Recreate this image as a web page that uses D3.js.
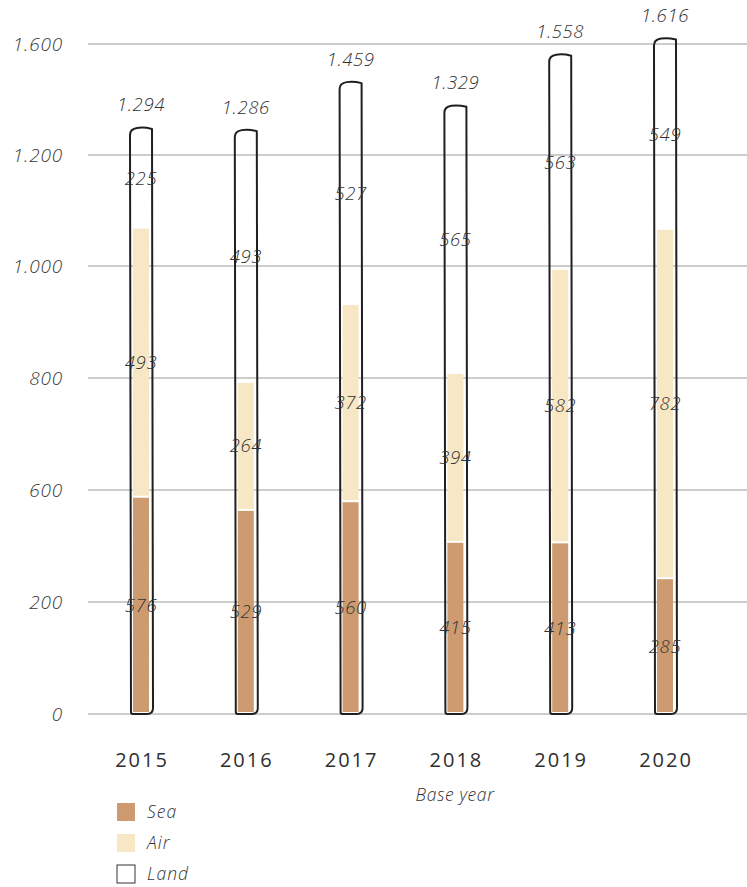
<!DOCTYPE html>
<html>
<head>
<meta charset="utf-8">
<script src="https://cdn.jsdelivr.net/npm/d3@7"></script>
<style>
  html, body { margin: 0; padding: 0; background: #fff; }
  svg text { font-family: "Open Sans", "Lato", sans-serif; }
</style>
</head>
<body>
<div id="chart"></div>
<script>
// Shipments by transport mode per base year
const years = ["2015", "2016", "2017", "2018", "2019", "2020"];
const sea   = [576, 529, 560, 415, 413, 285];
const air   = [493, 264, 372, 394, 582, 782];
const land  = [225, 493, 527, 565, 563, 549];
const totals = ["1.294", "1.286", "1.459", "1.329", "1.558", "1.616"];

// Axis ticks as printed on the chart
const tickValues = [0, 200, 600, 800, 1000, 1200, 1600];
const tickLabels = ["0", "200", "600", "800", "1.000", "1.200", "1.600"];

const modes = ["Sea", "Air", "Land"];
const colors = { Sea: "#cd9b6f", Air: "#f7e7c4", Land: "#ffffff" };

const W = 747, H = 887;
const svg = d3.select("#chart").append("svg")
  .attr("width", W).attr("height", H);

// Piecewise axis: each gridline step spans one printed tick interval
const y = d3.scaleLinear()
  .domain(tickValues)
  .range([714, 602, 490, 378, 266, 155, 44]);

const x = d3.scalePoint().domain(years).range([141, 665]);
const barW = 22;

// Gridlines
svg.append("g").selectAll("line")
  .data(tickValues)
  .join("line")
  .attr("x1", 88).attr("x2", W)
  .attr("y1", d => y(d)).attr("y2", d => y(d))
  .attr("stroke", "#9a9a9a").attr("stroke-width", 1);

// Y tick labels
svg.append("g").selectAll("text")
  .data(tickValues)
  .join("text")
  .attr("x", 63).attr("y", d => y(d))
  .attr("dy", "0.35em")
  .attr("text-anchor", "end")
  .attr("font-size", 19).attr("font-style", "italic").attr("font-weight", 300)
  .attr("letter-spacing", 0.8)
  .attr("fill", "#3a3a3a")
  .text((d, i) => tickLabels[i]);

// Stack the modes
const rows = years.map((yr, i) => ({ year: yr, Sea: sea[i], Air: air[i], Land: land[i] }));
const stack = d3.stack().keys(modes)(rows);

const bars = svg.append("g");

// Filled segments (inset inside the outline)
stack.forEach(layer => {
  if (layer.key === "Land") return;
  bars.append("g").selectAll("rect")
    .data(layer)
    .join("rect")
    .attr("x", d => x(d.data.year) - barW / 2 + 3)
    .attr("width", barW - 6)
    .attr("y", d => y(d[1]) + 1)
    .attr("height", d => Math.max(0, y(d[0]) - y(d[1]) - (layer.key === "Sea" ? 3 : 2)))
    .attr("fill", colors[layer.key]);
});

// Hand-drawn style outline around each full bar
const topLayer = stack[stack.length - 1];
bars.append("g").selectAll("path")
  .data(topLayer)
  .join("path")
  .attr("d", d => {
    const cx = x(d.data.year);
    const l = cx - barW / 2, r = cx + barW / 2;
    const t = y(d[1]), b = y(0);
    const p = d3.path();
    p.moveTo(l + 1, b - 2);
    p.lineTo(l, t + 6);
    p.quadraticCurveTo(l, t, l + 7, t - 1);
    p.quadraticCurveTo(cx + 3, t - 2, r, t);
    p.lineTo(r + 1, b - 6);
    p.quadraticCurveTo(r + 1, b, r - 5, b);
    p.lineTo(l + 3, b);
    p.quadraticCurveTo(l + 1, b, l + 1, b - 2);
    return p.toString();
  })
  .attr("fill", "none")
  .attr("stroke", "#1f1f1f")
  .attr("stroke-width", 2)
  .attr("stroke-linejoin", "round");

// Segment value labels
const labelStyle = sel => sel
  .attr("text-anchor", "middle")
  .attr("dy", "0.35em")
  .attr("font-size", 18.5).attr("font-style", "italic").attr("font-weight", 300)
  .attr("letter-spacing", 0.6)
  .attr("fill", "#333");

stack.forEach(layer => {
  svg.append("g").selectAll("text")
    .data(layer)
    .join("text")
    .attr("x", d => x(d.data.year))
    .attr("y", d => (y(d[0]) + y(d[1])) / 2)
    .text(d => d.data[layer.key])
    .call(labelStyle);
});

// Totals above bars
svg.append("g").selectAll("text")
  .data(topLayer)
  .join("text")
  .attr("x", d => x(d.data.year))
  .attr("y", d => y(d[1]) - 24)
  .text((d, i) => totals[i])
  .call(labelStyle);

// Year labels
svg.append("g").selectAll("text")
  .data(years)
  .join("text")
  .attr("x", d => x(d) + 1)
  .attr("y", 760)
  .attr("dy", "0.35em")
  .attr("text-anchor", "middle")
  .attr("font-size", 20).attr("letter-spacing", 2)
  .attr("fill", "#2e2e2e")
  .text(d => d);

// Axis title
svg.append("text")
  .attr("x", 455).attr("y", 795).attr("dy", "0.35em")
  .attr("text-anchor", "middle")
  .attr("font-size", 17.5).attr("font-style", "italic").attr("font-weight", 300)
  .attr("letter-spacing", 0.6)
  .attr("fill", "#333")
  .text("Base year");

// Legend
const legend = svg.append("g").selectAll("g")
  .data(modes)
  .join("g")
  .attr("transform", (d, i) => `translate(117, ${803 + i * 31})`);
legend.append("rect")
  .attr("width", 18).attr("height", 18)
  .attr("fill", d => colors[d])
  .attr("stroke", d => d === "Land" ? "#333" : "none")
  .attr("stroke-width", 1);
legend.append("text")
  .attr("x", 30).attr("y", 9).attr("dy", "0.35em")
  .attr("font-size", 17.5).attr("font-style", "italic").attr("font-weight", 300)
  .attr("letter-spacing", 1)
  .attr("fill", "#333")
  .text(d => d);
</script>
</body>
</html>
